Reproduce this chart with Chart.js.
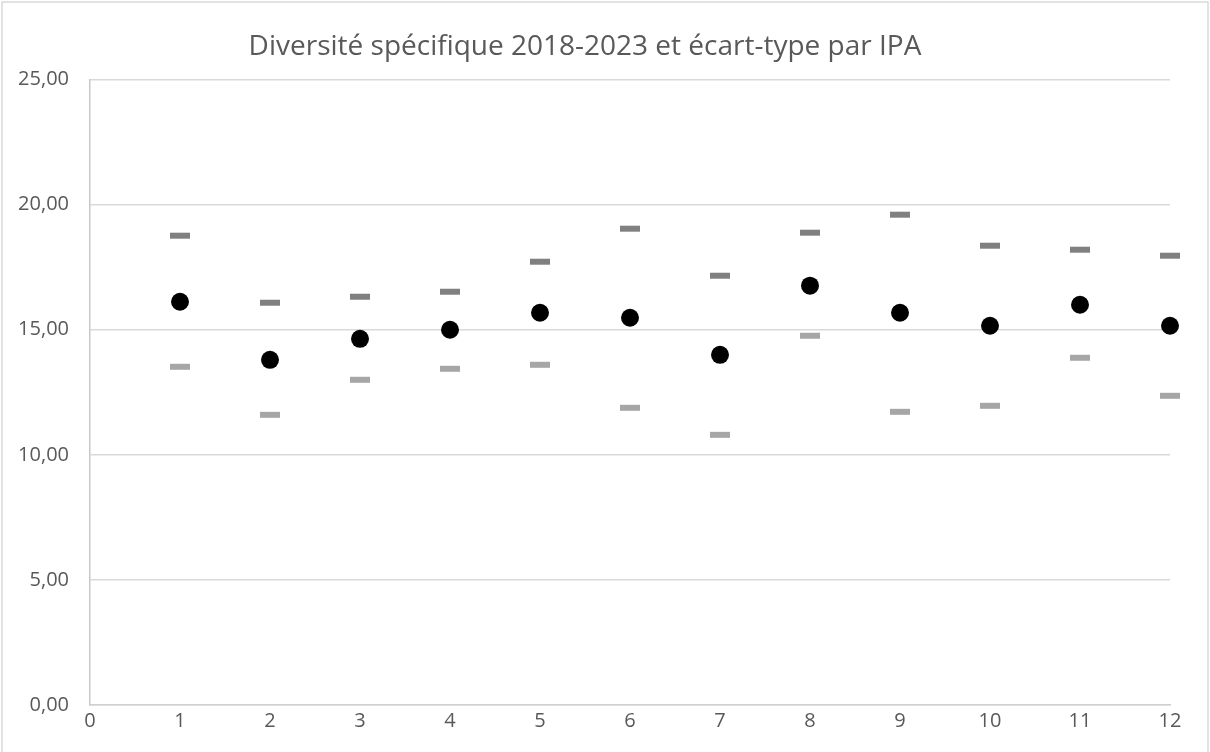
<!DOCTYPE html>
<html>
<head>
<meta charset="utf-8">
<script src="https://cdn.jsdelivr.net/npm/chart.js@4"></script>
<style>
  html, body { margin: 0; padding: 0; background: #fff; }
  #wrap { width: 1210px; height: 752px; position: relative; }
</style>
</head>
<body>
<div id="wrap"><canvas id="chart"></canvas></div>
<script>
// IPA numbers and values
const ipa = [1, 2, 3, 4, 5, 6, 7, 8, 9, 10, 11, 12];
const moyenne = [16.12, 13.80, 14.64, 15.00, 15.68, 15.48, 14.00, 16.76, 15.68, 15.16, 16.00, 15.16];
const plusEcart = [18.76, 16.08, 16.32, 16.52, 17.72, 19.04, 17.16, 18.88, 19.60, 18.36, 18.20, 17.96];
const moinsEcart = [13.52, 11.60, 13.00, 13.44, 13.60, 11.88, 10.80, 14.76, 11.72, 11.96, 13.88, 12.36];

const xTicks = [0, 1, 2, 3, 4, 5, 6, 7, 8, 9, 10, 11, 12];
const yTicks = [0, 5, 10, 15, 20, 25];

function toPoints(values) {
  return ipa.map(function(x, i) { return { x: x, y: values[i] }; });
}

// light frame around the whole chart
const framePlugin = {
  id: 'frame',
  beforeDraw(chart) {
    const ctx = chart.ctx;
    ctx.save();
    ctx.strokeStyle = '#d9d9d9';
    ctx.lineWidth = 1.5;
    ctx.strokeRect(2, 2, chart.width - 4, chart.height + 10);
    ctx.restore();
  }
};

const font = "'Open Sans', 'Noto Sans', sans-serif";

new Chart(document.getElementById('chart'), {
  type: 'scatter',
  data: {
    datasets: [
      {
        label: '+ écart-type',
        data: toPoints(plusEcart),
        pointStyle: 'line',
        pointRadius: 10,
        pointBorderWidth: 6,
        borderColor: '#808080',
        backgroundColor: '#808080',
        clip: false
      },
      {
        label: '- écart-type',
        data: toPoints(moinsEcart),
        pointStyle: 'line',
        pointRadius: 10,
        pointBorderWidth: 6,
        borderColor: '#a6a6a6',
        backgroundColor: '#a6a6a6',
        clip: false
      },
      {
        label: 'Diversité moyenne',
        data: toPoints(moyenne),
        pointStyle: 'circle',
        pointRadius: 9,
        pointBorderWidth: 0,
        borderColor: '#000',
        backgroundColor: '#000',
        clip: false
      }
    ]
  },
  options: {
    responsive: true,
    maintainAspectRatio: false,
    animation: false,
    layout: { padding: { left: 0, right: 40, top: 0, bottom: 0 } },
    plugins: {
      legend: { display: false },
      tooltip: { enabled: false },
      title: {
        display: true,
        text: 'Diversité spécifique 2018-2023 et écart-type par IPA',
        color: '#595959',
        font: { family: font, size: 28, weight: 'normal' },
        padding: { top: 30, bottom: 16 }
      }
    },
    scales: {
      x: {
        type: 'linear',
        min: 0,
        max: 12,
        afterBuildTicks: function(scale) { scale.ticks = xTicks.map(function(v) { return { value: v }; }); },
        afterFit: function(scale) { scale.height = 47; },
        grid: { display: false, drawTicks: false },
        border: { display: true, color: '#d0d0d0', width: 1.5 },
        ticks: {
          color: '#595959',
          padding: 4,
          font: { family: font, size: 20 },
          callback: function(v) { return String(v); }
        }
      },
      y: {
        min: 0,
        max: 25,
        afterBuildTicks: function(scale) { scale.ticks = yTicks.map(function(v) { return { value: v }; }); },
        afterFit: function(scale) { scale.width = 90; },
        grid: { color: '#d9d9d9', lineWidth: 1.5, drawTicks: false },
        border: { display: true, color: '#c8c8c8', width: 1.5 },
        ticks: {
          color: '#595959',
          padding: 21,
          font: { family: font, size: 20 },
          callback: function(v) { return v.toFixed(2).replace('.', ','); }
        }
      }
    }
  },
  plugins: [framePlugin]
});
</script>
</body>
</html>
